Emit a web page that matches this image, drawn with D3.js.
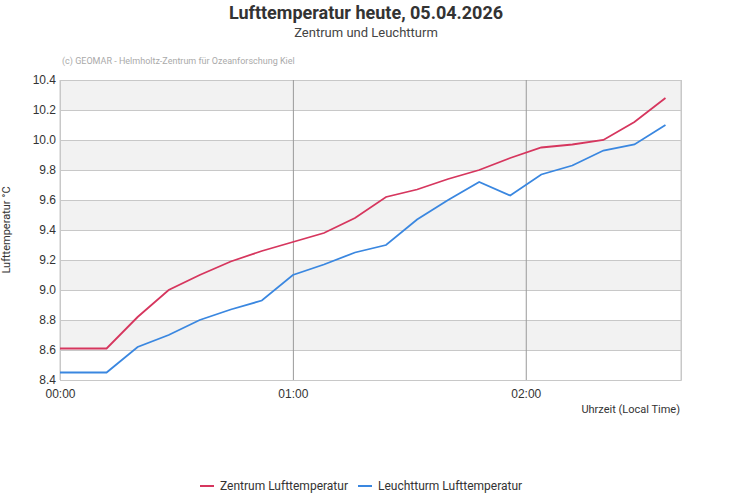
<!DOCTYPE html>
<html><head><meta charset="utf-8">
<script src="https://cdn.jsdelivr.net/npm/d3@7"></script>
<style>body{margin:0;background:#fff;font-family:Roboto,Arial,sans-serif}</style>
</head><body><svg id="c" width="731" height="500"></svg>
<script>
const minutes = [0,12,20,28,36,44,52,60,68,76,84,92,100,108,116,124,132,140,148,156];
const zentrum = [8.61,8.61,8.82,9.00,9.10,9.19,9.26,9.32,9.38,9.48,9.62,9.67,9.74,9.80,9.88,9.95,9.97,10.00,10.12,10.28];
const leuchtturm = [8.45,8.45,8.62,8.70,8.80,8.87,8.93,9.10,9.17,9.25,9.30,9.47,9.60,9.72,9.63,9.77,9.83,9.93,9.97,10.10];
const yTicks = [8.4,8.6,8.8,9.0,9.2,9.4,9.6,9.8,10.0,10.2,10.4];
const xTicks = [0,60,120];
const xTickLabels = ["00:00","01:00","02:00"];
const seriesNames = ["Zentrum Lufttemperatur","Leuchtturm Lufttemperatur"];
const colors = ["#d6365e","#3a87e0"];

const svg = d3.select("#c");
const L=60,R=681,T=80,B=380;
const x = d3.scaleLinear().domain([0,160]).range([L,R]);
const y = d3.scaleLinear().domain([8.4,10.4]).range([B,T]);

for(let i=0;i<yTicks.length-1;i++){
  if(i%2===1) svg.append("rect").attr("x",L).attr("width",R-L)
    .attr("y",y(yTicks[i+1])).attr("height",y(yTicks[i])-y(yTicks[i+1])).attr("fill","#f2f2f2");
}
svg.append("g").attr("transform",`translate(${L},0)`)
  .call(d3.axisLeft(y).tickValues(yTicks).tickSize(-(R-L)).tickFormat(d3.format(".1f")))
  .call(g=>{g.select(".domain").remove();g.selectAll("line").attr("stroke","#c8c8c8");
    g.selectAll("text").attr("fill","#333").attr("font-size",12).attr("x",-4);});
svg.append("g").attr("transform",`translate(0,${B})`)
  .call(d3.axisBottom(x).tickValues(xTicks).tickSize(-(B-T)).tickFormat((d,i)=>xTickLabels[i]))
  .call(g=>{g.select(".domain").attr("stroke","#c8c8c8");
    g.selectAll("line").attr("stroke",(d)=>d===0?"#c8c8c8":"#999");
    g.selectAll("text").attr("fill","#333").attr("font-size",12).attr("y",9).attr("dy","0.71em");});
svg.append("line").attr("x1",R).attr("x2",R).attr("y1",T).attr("y2",B).attr("stroke","#c8c8c8");
svg.append("line").attr("x1",L).attr("x2",L).attr("y1",T).attr("y2",B).attr("stroke","#c8c8c8");

const line = d3.line().x((d,i)=>x(minutes[i])).y(d=>y(d));
[zentrum,leuchtturm].forEach((s,k)=>svg.append("path").datum(s).attr("d",line)
  .attr("fill","none").attr("stroke",colors[k]).attr("stroke-width",1.8));

svg.append("text").attr("x",366).attr("y",19).attr("text-anchor","middle").attr("font-size",18)
  .attr("font-weight","bold").attr("fill","#333").text("Lufttemperatur heute, 05.04.2026");
svg.append("text").attr("x",366).attr("y",37).attr("text-anchor","middle").attr("font-size",13)
  .attr("fill","#444").text("Zentrum und Leuchtturm");
svg.append("text").attr("x",62).attr("y",64).attr("font-size",9).attr("fill","#aaa")
  .text("(c) GEOMAR - Helmholtz-Zentrum für Ozeanforschung Kiel");
svg.append("text").attr("transform","translate(10,230) rotate(-90)").attr("text-anchor","middle")
  .attr("font-size",11).attr("fill","#333").text("Lufttemperatur °C");
svg.append("text").attr("x",680).attr("y",413).attr("text-anchor","end").attr("font-size",11)
  .attr("fill","#333").text("Uhrzeit (Local Time)");
const lx=[200,358];
seriesNames.forEach((n,k)=>{
  svg.append("line").attr("x1",lx[k]).attr("x2",lx[k]+14).attr("y1",486).attr("y2",486)
    .attr("stroke",colors[k]).attr("stroke-width",2);
  svg.append("text").attr("x",lx[k]+20).attr("y",490).attr("font-size",12).attr("fill","#333").text(n);
});
</script></body></html>
